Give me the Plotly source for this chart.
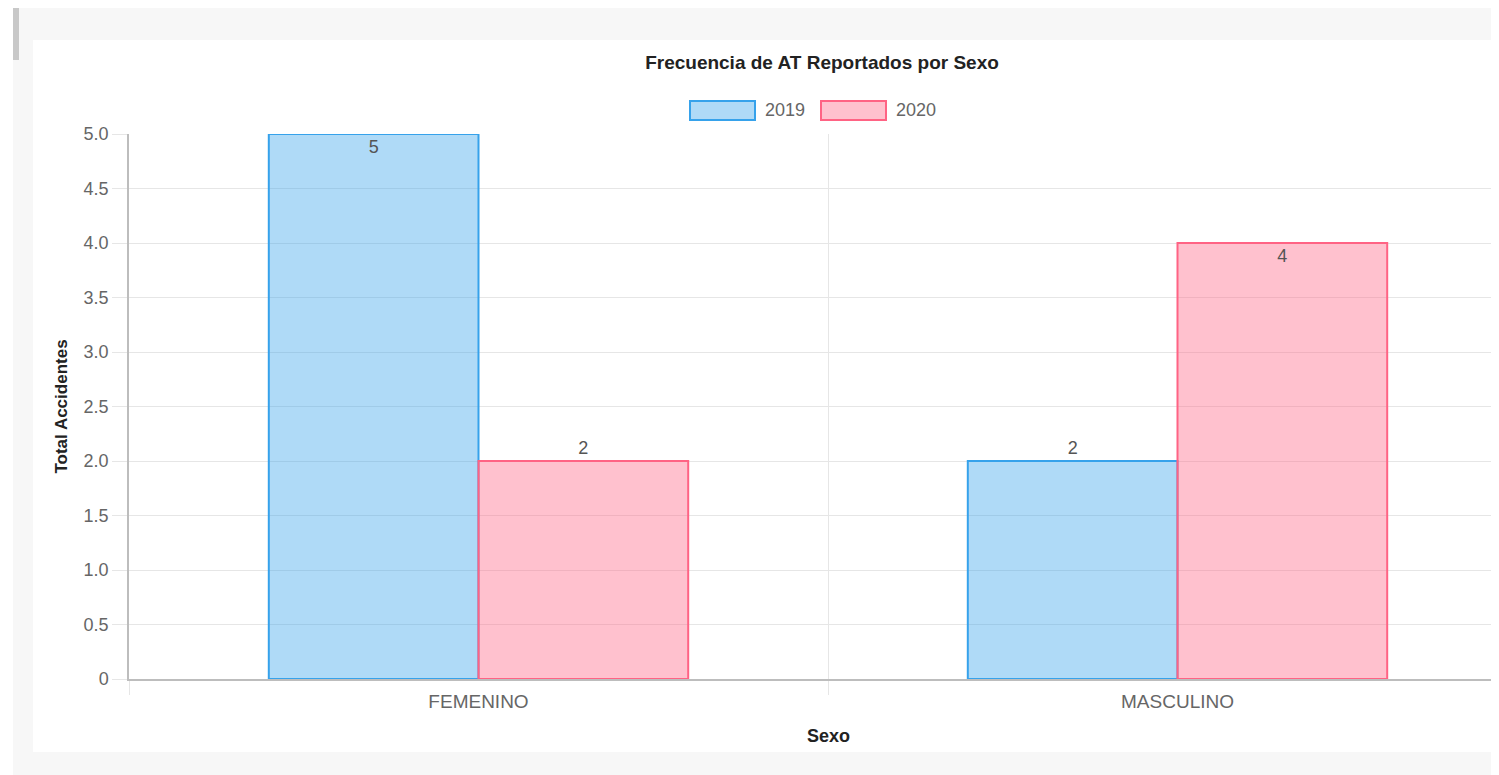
import plotly.graph_objects as go

# Datos
sexos = ['FEMENINO', 'MASCULINO']
anios = ['2019', '2020']
total_2019 = [5, 2]
total_2020 = [2, 4]

# la pagina deja 8px de margen alrededor de la figura
OFF = 8
W, H = 1499 - OFF, 775 - OFF
# zona del grafico (en pixeles de la pantalla)
L, R, T, B = 129, 1499, 134, 679


def px(x):
    return (x - L) / (R - L)


def py(y):
    return (B - y) / (B - T)


fig = go.Figure()

fig.add_trace(go.Bar(
    x=sexos, y=total_2019, name=anios[0],
    marker=dict(color='rgba(54,162,235,0.4)', line=dict(color='rgb(54,162,235)', width=2)),
    text=total_2019, textposition=['inside', 'outside'], insidetextanchor='end',
    textfont=dict(size=18, color='#555'), cliponaxis=False
))
fig.add_trace(go.Bar(
    x=sexos, y=total_2020, name=anios[1],
    marker=dict(color='rgba(255,99,132,0.4)', line=dict(color='rgb(255,99,132)', width=2)),
    text=total_2020, textposition=['outside', 'inside'], insidetextanchor='end',
    textfont=dict(size=18, color='#555'), cliponaxis=False
))

# fondo de la pagina y tarjeta blanca
shapes = [
    dict(type='rect', xref='paper', yref='paper', layer='below',
         x0=px(13), x1=px(1505), y0=py(8), y1=py(780),
         fillcolor='#f7f7f7', line=dict(width=0)),
    dict(type='rect', xref='paper', yref='paper', layer='below',
         x0=px(13), x1=px(19), y0=py(8), y1=py(60),
         fillcolor='#c8c8c8', line=dict(width=0)),
    dict(type='rect', xref='paper', yref='paper', layer='below',
         x0=px(33), x1=px(1505), y0=py(40), y1=py(752),
         fillcolor='white', line=dict(width=0)),
]

# leyenda al estilo Chart.js
annotations = []
leyenda = [(690, 'rgba(54,162,235,0.4)', 'rgb(54,162,235)'),
           (821, 'rgba(255,99,132,0.4)', 'rgb(255,99,132)')]
for (x0, fill, borde), nombre in zip(leyenda, anios):
    shapes.append(dict(type='rect', xref='paper', yref='paper',
                       x0=px(x0), x1=px(x0 + 65), y0=py(120), y1=py(101),
                       fillcolor=fill, line=dict(color=borde, width=2)))
    annotations.append(dict(text=nombre, xref='paper', yref='paper',
                            x=px(x0 + 73), y=py(110.5), xanchor='left', yanchor='middle',
                            showarrow=False, font=dict(size=18, color='#666')))

annotations.append(dict(text='<b>Sexo</b>', xref='x', yref='paper', x=0.5, y=py(736),
                        xanchor='center', yanchor='middle', showarrow=False,
                        font=dict(size=18, color='#222')))

fig.update_layout(
    width=W, height=H,
    margin=dict(l=L - OFF, r=W - (R - OFF), t=T - OFF, b=H - (B - OFF), pad=0),
    paper_bgcolor='white',
    plot_bgcolor='rgba(0,0,0,0)',
    font=dict(family='Liberation Sans, Arial, sans-serif'),
    title=dict(text='<b>Frecuencia de AT Reportados por Sexo</b>', x=(822 - OFF) / W,
               y=1 - (62 - OFF) / H,
               xanchor='center', yanchor='middle', font=dict(size=19, color='#222')),
    showlegend=False,
    barmode='group', bargap=0.4, bargroupgap=0,
    shapes=shapes, annotations=annotations,
    hovermode=False,
    xaxis=dict(range=[-0.5, -0.5 + (R - L) / 699], tickson='boundaries',
               showgrid=True, gridcolor='#e6e6e6', gridwidth=1,
               ticks='outside', ticklen=14, tickcolor='#e6e6e6',
               showline=True, linecolor='#bdbdbd', linewidth=1.5,
               ticklabelstandoff=4,
               tickfont=dict(size=19, color='#666')),
    yaxis=dict(range=[0, 5], tickvals=[0, 0.5, 1, 1.5, 2, 2.5, 3, 3.5, 4, 4.5, 5],
               ticktext=['0', '0.5', '1.0', '1.5', '2.0', '2.5', '3.0', '3.5', '4.0', '4.5', '5.0'],
               showgrid=True, gridcolor='#e6e6e6', gridwidth=1, zeroline=False,
               ticks='outside', ticklen=15, tickcolor='#e6e6e6',
               showline=True, linecolor='#bdbdbd', linewidth=1.5,
               tickfont=dict(size=18, color='#666'),
               title=dict(text='<b>Total Accidentes</b>', standoff=12,
                          font=dict(size=17, color='#222'))),
)

fig.write_html("out.html")
